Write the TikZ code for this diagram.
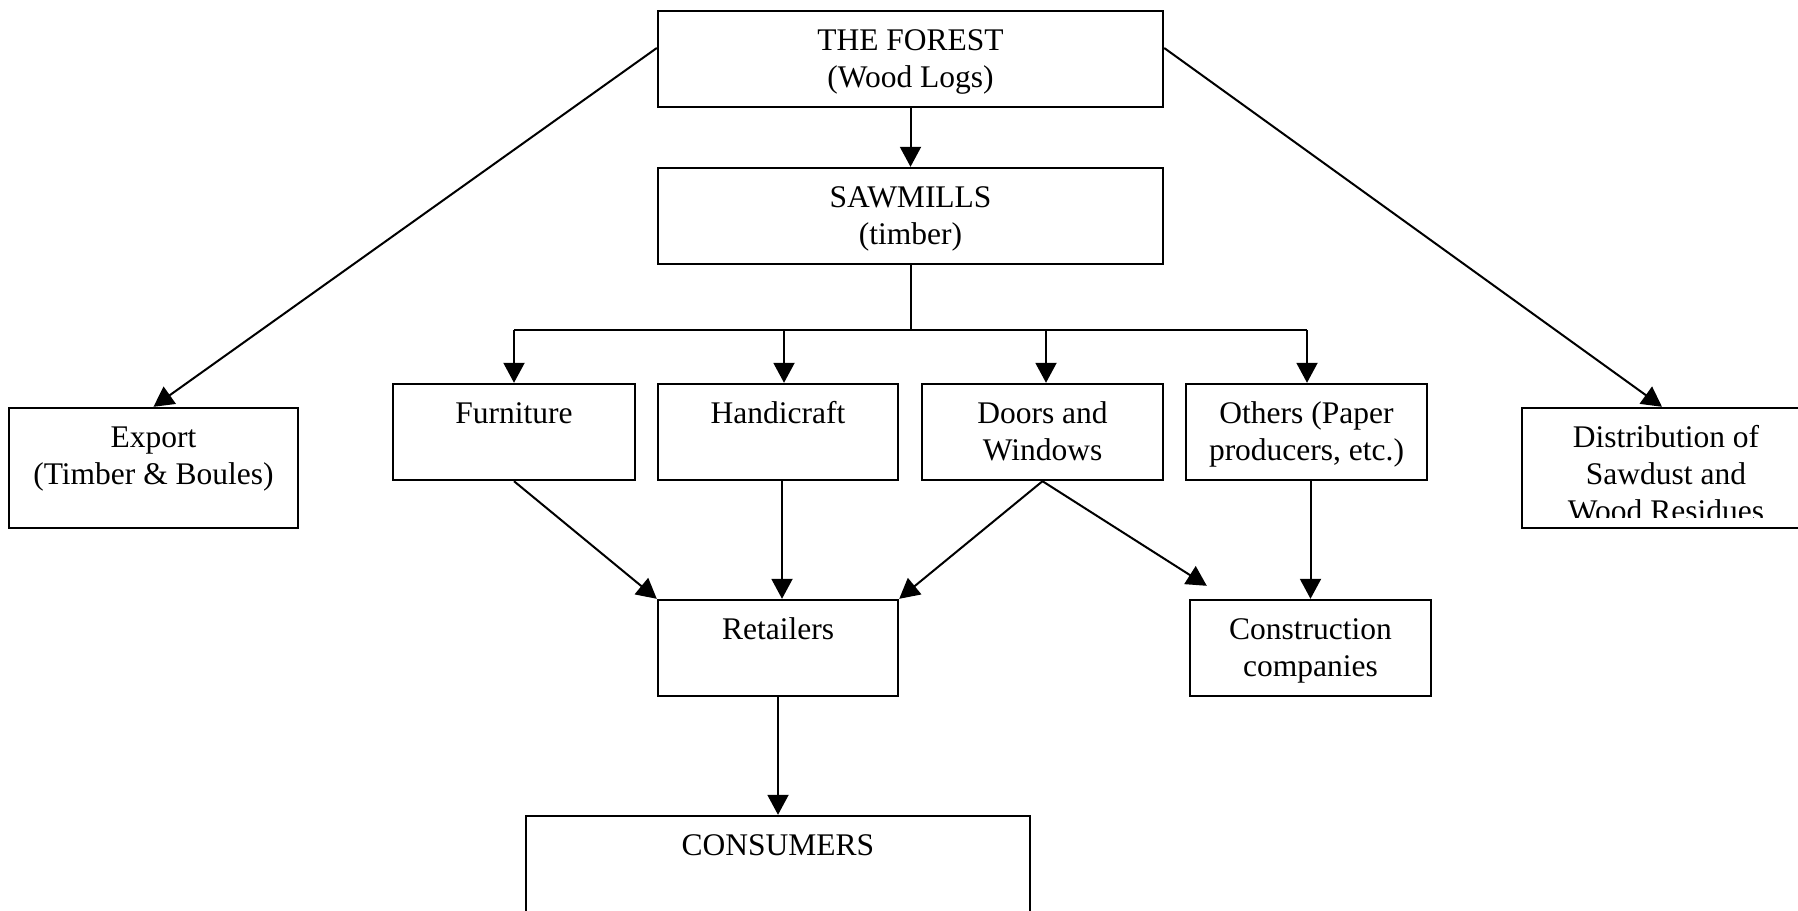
\documentclass[tikz,border=0pt]{standalone}
\usepackage{fontspec}
\setmainfont{Liberation Serif}
\usetikzlibrary{arrows.meta}
% invisible rule that fixes the height of a first text line
\newcommand\topstrut{\rule{0pt}{26pt}}
\begin{document}
\begin{tikzpicture}[x=1pt,y=-1pt,
  box/.style={draw=black, line width=2.4pt, inner sep=0pt},
  boxtext/.style={anchor=north, inner sep=0pt, align=center,
                  font=\fontsize{31.5}{37}\selectfont},
  link/.style={draw=black, line width=2pt},
  flow/.style={link, -{Triangle[length=20pt,width=21pt]}}
]
\fill[white] (0,0) rectangle (1798,910);
\useasboundingbox (0,0) rectangle (1798,910);

% ---- boxes ----
\node[box, minimum width=505pt, minimum height=96pt]  (forest)   at (910.5,59)  {};
\node[box, minimum width=505pt, minimum height=96pt]  (sawmills) at (910.5,216) {};
\node[box, minimum width=289pt, minimum height=120pt] (export)   at (153.5,468) {};
\node[box, minimum width=280pt, minimum height=120pt] (dist)     at (1662,468)  {};
\node[box, minimum width=242pt, minimum height=96pt]  (furn)     at (514,432)   {};
\node[box, minimum width=240pt, minimum height=96pt]  (handi)    at (778,432)   {};
\node[box, minimum width=241pt, minimum height=96pt]  (doors)    at (1042.5,432) {};
\node[box, minimum width=241pt, minimum height=96pt]  (others)   at (1306.5,432) {};
\node[box, minimum width=240pt, minimum height=96pt]  (retail)   at (778,648)   {};
\node[box, minimum width=241pt, minimum height=96pt]  (constr)   at (1310.5,648) {};
\node[box, minimum width=504pt, minimum height=184pt] (consum)   at (778,908)   {};

% ---- texts ----
\node[boxtext] (forest-t)   at ([yshift=-14pt]forest.north)   {\topstrut THE FOREST\\(Wood Logs)};
\node[boxtext] (sawmills-t) at ([yshift=-14pt]sawmills.north) {\topstrut SAWMILLS\\(timber)};
\node[boxtext] (export-t)   at ([yshift=-14pt]export.north)   {\topstrut Export\\(Timber \& Boules)};
\node[boxtext] (furn-t)     at ([yshift=-14pt]furn.north)     {\topstrut Furniture};
\node[boxtext] (handi-t)    at ([yshift=-14pt]handi.north)    {\topstrut Handicraft};
\node[boxtext] (doors-t)    at ([yshift=-14pt]doors.north)    {\topstrut Doors and\\Windows};
\node[boxtext] (others-t)   at ([yshift=-14pt]others.north)   {\topstrut Others (Paper\\producers, etc.)};
\node[boxtext] (retail-t)   at ([yshift=-14pt]retail.north)   {\topstrut Retailers};
\node[boxtext] (constr-t)   at ([yshift=-14pt]constr.north)   {\topstrut Construction\\companies};
\node[boxtext] (consum-t)   at ([yshift=-14pt]consum.north)   {\topstrut CONSUMERS};
\begin{scope}
  % the text frame cuts off the last line
  \clip (1522,408) rectangle (1802,517);
  \node[boxtext] (dist-t) at ([xshift=4pt,yshift=-14pt]dist.north)
    {\topstrut Distribution of\\Sawdust and\\Wood Residues};
\end{scope}

% ---- connectors ----
\draw[flow] (forest) -- (sawmills);
\draw[flow] ([yshift=11pt]forest.west) -- (export.north);
\draw[flow] ([yshift=11pt]forest.east) -- (dist.north);

\coordinate (split) at (910.5,330);
\draw[link] (sawmills.south) -- (split);
\draw[link] (furn.north |- split) -- ([xshift=0.5pt]others.north |- split);
\draw[flow] (furn.north |- split) -- (furn.north);
\draw[flow] ([xshift=6pt]handi.north |- split) -- ([xshift=6pt]handi.north);
\draw[flow] ([xshift=3.5pt]doors.north |- split) -- ([xshift=3.5pt]doors.north);
\draw[flow] ([xshift=0.5pt]others.north |- split) -- ([xshift=0.5pt]others.north);

\draw[flow] (furn.south) -- (retail.north west);
\draw[flow] ([xshift=4pt]handi.south) -- ([xshift=4pt]retail.north);
\draw[flow] (doors.south) -- (retail.north east);
\draw[flow] (doors.south) -- ([xshift=18pt,yshift=13pt]constr.north west);
\draw[flow] (constr.north |- others.south) -- (constr.north);
\draw[flow] (retail.south) -- (consum.north);
\end{tikzpicture}
\end{document}
